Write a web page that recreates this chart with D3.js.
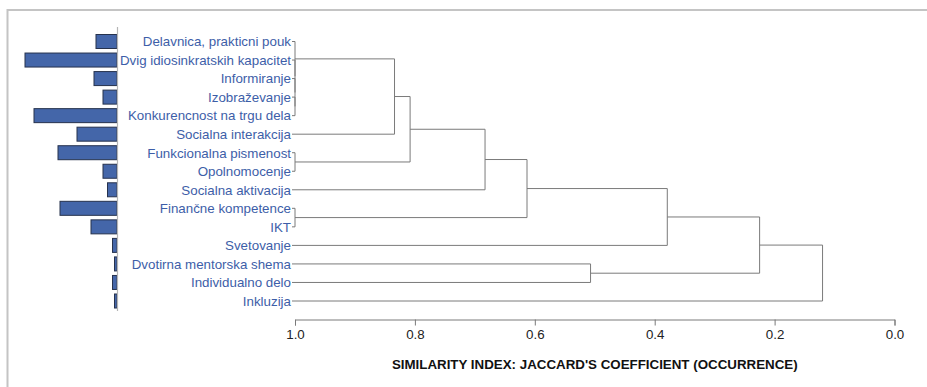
<!DOCTYPE html>
<html><head><meta charset="utf-8">
<script src="https://cdn.jsdelivr.net/npm/d3@7"></script>
<style>html,body{margin:0;padding:0;background:#fff;}svg{display:block;}</style>
</head><body>
<script>
const leaves = ["Delavnica, prakticni pouk","Dvig idiosinkratskih kapacitet","Informiranje","Izobraževanje","Konkurencnost na trgu dela","Socialna interakcija","Funkcionalna pismenost","Opolnomocenje","Socialna aktivacija","Finančne kompetence","IKT","Svetovanje","Dvotirna mentorska shema","Individualno delo","Inkluzija"];
const barValues = [21, 92, 23, 14, 83, 40, 59, 14, 9.5, 57, 26, 4.5, 2.5, 4.5, 2.5];
// linkage: [childA, childB, similarity]; new cluster ids start at leaves.length
const merges = [
  [3, 4, 1.0],
  [2, 15, 1.0],
  [1, 16, 1.0],
  [0, 17, 1.0],
  [18, 5, 0.834],
  [6, 7, 1.0],
  [19, 20, 0.808],
  [21, 8, 0.683],
  [9, 10, 1.0],
  [22, 23, 0.613],
  [24, 11, 0.379],
  [12, 13, 0.507],
  [25, 26, 0.225],
  [27, 14, 0.120]
];
const axisTicks = [1.0, 0.8, 0.6, 0.4, 0.2, 0.0];
const axisTitle = "SIMILARITY INDEX: JACCARD'S COEFFICIENT (OCCURRENCE)";

const W = 927, H = 387;
const svg = d3.select("body").append("svg").attr("width", W).attr("height", H);

// frame
svg.append("rect").attr("x", 7.5).attr("y", 10).attr("width", 1000).attr("height", 500)
  .attr("fill", "none").attr("stroke", "#c4c4c4").attr("stroke-width", 2);

const y = d3.scalePoint().domain(leaves).range([41.5, 301]);
const x = d3.scaleLinear().domain([1, 0]).range([295, 894.5]);
const barX = d3.scaleLinear().domain([0, 100]).range([0, 100]);
const baseX = 117;
const lineColor = "#7a7a7a";
const font = "Liberation Sans, Arial, sans-serif";

// bars
svg.append("g").selectAll("rect").data(leaves).join("rect")
  .attr("x", (d, i) => baseX - barX(barValues[i]))
  .attr("y", d => y(d) - 7)
  .attr("width", (d, i) => barX(barValues[i]))
  .attr("height", 14)
  .attr("fill", "#4466a9")
  .attr("stroke", "#26324d").attr("stroke-width", 1);

svg.append("line").attr("x1", baseX + 0.5).attr("x2", baseX + 0.5).attr("y1", 27).attr("y2", 311)
  .attr("stroke", "#b5b5b5").attr("stroke-width", 1.2);

// labels
svg.append("g").selectAll("text").data(leaves).join("text")
  .attr("x", x(1) - 4).attr("y", d => y(d)).attr("dy", "0.36em")
  .attr("text-anchor", "end")
  .attr("font-family", font).attr("font-size", 13.33)
  .attr("fill", "#3d5ea8")
  .text(d => d);

// build hierarchy from linkage
const nodes = leaves.map((name, i) => ({ name, sim: null, idx: i }));
merges.forEach(([a, b, s]) => nodes.push({ sim: s, children: [nodes[a], nodes[b]] }));
const root = d3.hierarchy(nodes[nodes.length - 1]);
root.eachAfter(n => {
  if (!n.children) { n.py = y(n.data.name); n.px = x(1) - 3; }
  else { n.py = (n.children[0].py + n.children[1].py) / 2; n.px = x(n.data.sim); }
});
const g = svg.append("g").attr("stroke", lineColor).attr("stroke-width", 1).attr("fill", "none");
root.each(n => {
  if (!n.children) return;
  const ys = n.children.map(c => c.py);
  g.append("line").attr("x1", n.px).attr("x2", n.px).attr("y1", d3.min(ys)).attr("y2", d3.max(ys));
  n.children.forEach(c => {
    g.append("line").attr("x1", c.px).attr("x2", n.px).attr("y1", c.py).attr("y2", c.py);
  });
});

// axis
const axis = d3.axisBottom(x).tickValues(axisTicks).tickFormat(d3.format(".1f")).tickSize(6).tickPadding(4);
const ag = svg.append("g").attr("transform", "translate(0,319.5)").call(axis);
ag.select(".domain").attr("stroke", lineColor);
ag.selectAll(".tick line").attr("stroke", lineColor);
ag.selectAll(".tick text").attr("font-family", font).attr("font-size", 13.33).attr("fill", "#222");

svg.append("text").attr("x", (x(1) + x(0)) / 2).attr("y", 369)
  .attr("text-anchor", "middle")
  .attr("font-family", font).attr("font-size", 13.33).attr("font-weight", "bold")
  .attr("fill", "#111")
  .text(axisTitle);
</script>
</body></html>
